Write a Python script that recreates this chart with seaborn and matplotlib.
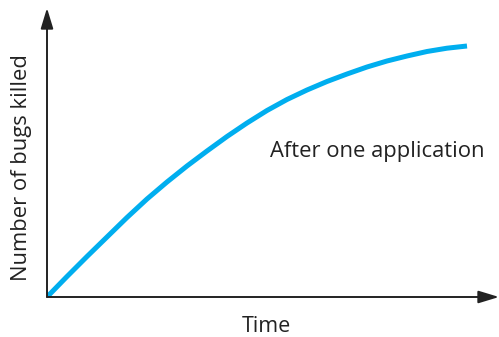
import matplotlib
matplotlib.use("Agg")
import matplotlib.pyplot as plt
import seaborn as sns
import pandas as pd

# -----------------------------
# Data
# -----------------------------
time = [0, 20, 40, 60, 80, 100, 120, 140, 160, 180, 200,
        220, 240, 260, 280, 300, 320, 340, 360, 380, 400, 420]
bugs_killed = [0, 20.5, 40.5, 60, 79.5, 98, 115, 131, 146, 160.5, 174,
               186.5, 197.5, 207, 215.5, 223, 230, 236, 241, 245.5, 248.8, 251]
curve_label = "After one application"
x_label = "Time"
y_label = "Number of bugs killed"

df = pd.DataFrame({"Time": time, "Bugs": bugs_killed})

sns.set_theme(style="white")
plt.rcParams["font.family"] = ["Open Sans", "DejaVu Sans"]

fig = plt.figure(figsize=(4.99, 3.37), dpi=100)
ax = fig.add_axes([47 / 499, 40 / 337, 452 / 499, 289 / 337])

sns.lineplot(data=df, x="Time", y="Bugs", color="#00aeef", linewidth=3.6,
             solid_capstyle="butt", solid_joinstyle="round", ax=ax)

ax.set_xlim(0, 452)
ax.set_ylim(0, 289)
ax.set_xticks([])
ax.set_yticks([])
for s in ax.spines.values():
    s.set_visible(False)
ax.set_xlabel("")
ax.set_ylabel("")

# axes with arrow heads
arrow = dict(arrowstyle="-|>,head_length=1.25,head_width=0.38", color="#222222",
             lw=1.4, shrinkA=0, shrinkB=0, mutation_scale=10)
ax.annotate("", xy=(0, 1), xytext=(0, 0), xycoords="axes fraction",
            arrowprops=arrow, annotation_clip=False)
ax.annotate("", xy=(1, 0), xytext=(0, 0), xycoords="axes fraction",
            arrowprops=arrow, annotation_clip=False)

ax.text(223, 145, curve_label, fontsize=15.8, color="#222222", va="center", ha="left")
fig.text(266 / 499, 1 - 326 / 337, x_label, fontsize=15.5, color="#222222",
         ha="center", va="center")
fig.text(22 / 499, 1 - 168 / 337, y_label, fontsize=15.8, color="#222222",
         ha="center", va="center", rotation=90)

fig.savefig("out.png", dpi=100)
